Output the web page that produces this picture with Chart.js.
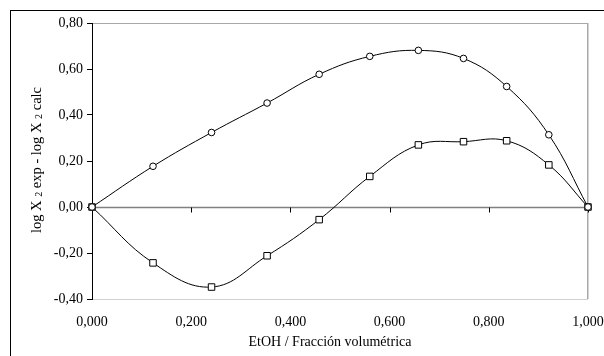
<!DOCTYPE html>
<html>
<head>
<meta charset="utf-8">
<script src="https://cdn.jsdelivr.net/npm/chart.js@4"></script>
<style>
html,body{margin:0;padding:0;background:#fff;}
#wrap{width:604px;height:356px;position:relative;}
</style>
</head>
<body>
<div id="wrap"><canvas id="c" width="604" height="356"></canvas></div>
<script>
const xValues = [0, 0.123, 0.241, 0.353, 0.458, 0.560, 0.658, 0.749, 0.836, 0.921, 1.0];
const circleSeries = [0, 0.177, 0.324, 0.452, 0.577, 0.655, 0.681, 0.646, 0.524, 0.314, 0];
const squareSeries = [0, -0.243, -0.348, -0.212, -0.055, 0.133, 0.270, 0.284, 0.288, 0.183, 0];
const xTitle = 'EtOH / Fracción volumétrica';
const yTitleParts = [['log X ', 'n'], ['2', 's'], [' exp - log X ', 'n'], ['2', 's'], [' calc', 'n']];

const FONT = '"Liberation Serif", "Times New Roman", serif';

const frame = {
  id: 'frame',
  beforeDraw(chart) {
    const ctx = chart.ctx;
    ctx.save();
    ctx.fillStyle = '#fff';
    ctx.fillRect(0, 0, chart.width, chart.height);
    ctx.strokeStyle = '#000';
    ctx.lineWidth = 1;
    ctx.strokeRect(10.5, 10.5, 800, 800);
    ctx.restore();
  }
};

const zeroAxis = {
  id: 'zeroAxis',
  beforeDatasetsDraw(chart) {
    const ctx = chart.ctx;
    const xs = chart.scales.x, ys = chart.scales.y;
    const y0 = Math.round(ys.getPixelForValue(0)) + 0.5;
    ctx.save();
    ctx.strokeStyle = '#808080';
    ctx.lineWidth = 1.5;
    ctx.beginPath();
    ctx.moveTo(xs.left, y0);
    ctx.lineTo(xs.right, y0);
    ctx.stroke();
    ctx.lineWidth = 1;
    ctx.strokeStyle = '#000';
    ctx.beginPath();
    xs.ticks.forEach(t => {
      const px = Math.round(xs.getPixelForValue(t.value)) + 0.5;
      ctx.moveTo(px, y0);
      ctx.lineTo(px, y0 + 5);
    });
    ctx.stroke();
    ctx.restore();
  },
  afterDraw(chart) {
    const ctx = chart.ctx;
    ctx.save();
    ctx.fillStyle = '#000';
    ctx.font = '14px ' + FONT;
    ctx.textAlign = 'center';
    ctx.textBaseline = 'middle';
    ctx.fillText(xTitle, 330, 342);
    const fontFor = s => (s === 's' ? '10px ' + FONT : '14.5px ' + FONT);
    let total = 0;
    yTitleParts.forEach(([t, s]) => { ctx.font = fontFor(s); total += ctx.measureText(t).width; });
    ctx.translate(36, 160);
    ctx.rotate(-Math.PI / 2);
    ctx.textAlign = 'left';
    ctx.textBaseline = 'alphabetic';
    let x = -total / 2;
    yTitleParts.forEach(([t, s]) => {
      ctx.font = fontFor(s);
      ctx.fillText(t, x, s === 's' ? 6 : 5);
      x += ctx.measureText(t).width;
    });
    ctx.restore();
  }
};

const circlePts = xValues.map((x, i) => ({ x: x, y: circleSeries[i] }));
const squarePts = xValues.map((x, i) => ({ x: x, y: squareSeries[i] }));

new Chart(document.getElementById('c'), {
  type: 'line',
  data: {
    datasets: [
      {
        data: circlePts,
        borderColor: '#000', borderWidth: 1, backgroundColor: '#fff',
        pointStyle: 'circle', pointRadius: 3.3, pointBorderWidth: 1,
        pointBackgroundColor: '#fff', pointBorderColor: '#000',
        tension: 0.4, fill: false, clip: false
      },
      {
        data: squarePts,
        borderColor: '#000', borderWidth: 1, backgroundColor: '#fff',
        pointStyle: 'rect', pointRadius: 4.6, pointBorderWidth: 1,
        pointBackgroundColor: '#fff', pointBorderColor: '#000',
        tension: 0.4, fill: false, clip: false
      }
    ]
  },
  options: {
    responsive: false,
    animation: false,
    events: [],
    layout: { padding: { left: 0, right: 16, top: 23, bottom: 0 } },
    plugins: { legend: { display: false }, tooltip: { enabled: false } },
    scales: {
      x: {
        type: 'linear', min: 0, max: 1,
        border: { display: false },
        grid: {
          drawTicks: false,
          color: c => (c.tick && Math.abs(c.tick.value - 1) < 1e-9) ? '#a8a8a8' : 'rgba(0,0,0,0)',
          lineWidth: 1.5
        },
        ticks: {
          stepSize: 0.2, padding: 15, maxRotation: 0, autoSkip: false,
          color: '#000', font: { family: FONT, size: 14 },
          callback: v => (Math.round(v * 1000) / 1000).toFixed(3).replace('.', ',')
        },
        afterFit: s => { s.height = 57; s.paddingLeft = 0; s.paddingRight = 0; }
      },
      y: {
        type: 'linear', min: -0.4, max: 0.8,
        border: { display: true, color: '#000', width: 1 },
        grid: {
          drawTicks: true, tickLength: 5, tickColor: '#000',
          color: c => {
            if (!c.tick) return 'rgba(0,0,0,0)';
            const v = Math.round(c.tick.value * 100) / 100;
            if (v === 0.8) return '#a8a8a8';
            if (v === -0.4) return '#d0d0d0';
            return 'rgba(0,0,0,0)';
          }
        },
        ticks: {
          stepSize: 0.2, padding: 4,
          color: '#000', font: { family: FONT, size: 14 },
          callback: v => (Math.round(v * 100) / 100).toFixed(2).replace('.', ',')
        },
        afterFit: s => { s.width = 92; s.paddingTop = 0; s.paddingBottom = 0; }
      }
    }
  },
  plugins: [frame, zeroAxis]
});
</script>
</body>
</html>
